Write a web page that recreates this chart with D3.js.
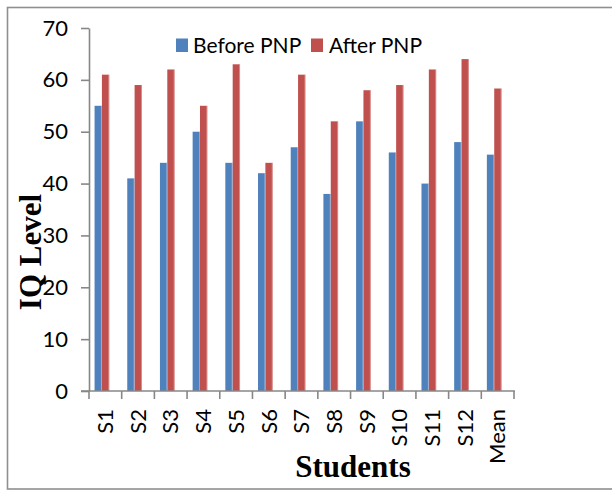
<!DOCTYPE html>
<html>
<head>
<meta charset="utf-8">
<script src="https://cdn.jsdelivr.net/npm/d3@7/dist/d3.min.js"></script>
<style>
  html, body { margin: 0; padding: 0; background: #fff; }
  svg { display: block; }
</style>
</head>
<body>
<svg id="chart" width="612" height="491"></svg>
<script>
// IQ level of each student before and after the PNP programme
const students = ["S1", "S2", "S3", "S4", "S5", "S6", "S7", "S8", "S9", "S10", "S11", "S12", "Mean"];
const beforePNP = [55, 41, 44, 50, 44, 42, 47, 38, 52, 46, 40, 48, 45.58];
const afterPNP  = [61, 59, 62, 55, 63, 44, 61, 52, 58, 59, 62, 64, 58.33];
const yTicks = [0, 10, 20, 30, 40, 50, 60, 70];
const seriesNames = ["Before PNP", "After PNP"];
const seriesColors = ["#4F81BD", "#C0504D"];

const W = 612, H = 491;
const plot = { left: 89, right: 514, top: 28, bottom: 391 };
const axisColor = "#878787";
const tickFont = "Lato, 'Noto Sans', sans-serif";

const svg = d3.select("#chart");

// outer frame
svg.append("rect")
  .attr("x", 7.5).attr("y", 7.5)
  .attr("width", W + 20).attr("height", 481.5)
  .attr("fill", "#fff")
  .attr("stroke", "#8f8f8f").attr("stroke-width", 1.6);

const x = d3.scaleBand().domain(students).range([plot.left, plot.right]);
const y = d3.scaleLinear().domain([0, 70]).range([plot.bottom, plot.top]);

const bw = x.bandwidth() * 0.225;
const offset = x.bandwidth() * 0.17;

// bars
const rows = students.map((s, i) => ({ s, vals: [beforePNP[i], afterPNP[i]] }));
const groups = svg.append("g").selectAll("g").data(rows).join("g");
groups.selectAll("rect")
  .data(d => d.vals.map((v, k) => ({ s: d.s, v, k })))
  .join("rect")
  .attr("x", d => x(d.s) + offset + d.k * bw)
  .attr("y", d => y(d.v))
  .attr("width", bw)
  .attr("height", d => y(0) - y(d.v))
  .attr("fill", d => seriesColors[d.k]);

// light edge on the right side of the bars
groups.selectAll("line.edge")
  .data(d => d.vals.map((v, k) => ({ s: d.s, v, k })))
  .join("line")
  .attr("class", "edge")
  .attr("x1", d => x(d.s) + offset + (d.k + 1) * bw - 0.5)
  .attr("x2", d => x(d.s) + offset + (d.k + 1) * bw - 0.5)
  .attr("y1", d => y(d.v))
  .attr("y2", y(0))
  .attr("stroke", "#fff").attr("stroke-opacity", 0.35).attr("stroke-width", 1);

// y axis
const yAxis = svg.append("g")
  .attr("transform", `translate(${plot.left},0)`)
  .call(d3.axisLeft(y).tickValues(yTicks).tickSize(8).tickPadding(13).tickSizeOuter(0));
yAxis.select(".domain").attr("stroke", axisColor).attr("stroke-width", 1.6);
yAxis.selectAll(".tick line").attr("stroke", axisColor).attr("stroke-width", 1.6);
yAxis.selectAll(".tick text")
  .attr("fill", "#000")
  .style("font-family", tickFont)
  .style("font-size", "22px");

// x axis line with ticks on the category boundaries
const xAxis = svg.append("g");
xAxis.append("line")
  .attr("x1", plot.left - 8).attr("x2", plot.right + 1)
  .attr("y1", plot.bottom).attr("y2", plot.bottom)
  .attr("stroke", axisColor).attr("stroke-width", 1.6);
const bounds = students.map(s => x(s)).concat([x(students[students.length - 1]) + x.step()]);
xAxis.selectAll("line.tk").data(bounds).join("line")
  .attr("class", "tk")
  .attr("x1", d => d).attr("x2", d => d)
  .attr("y1", plot.bottom).attr("y2", plot.bottom + 8)
  .attr("stroke", axisColor).attr("stroke-width", 1.6);
xAxis.selectAll("text").data(students).join("text")
  .attr("transform", d => `translate(${x(d) + x.bandwidth() / 2},409) rotate(-90)`)
  .attr("text-anchor", "end")
  .attr("dy", "0.35em")
  .style("font-family", tickFont)
  .style("font-size", "22px")
  .attr("fill", "#000")
  .text(d => d);

// legend
const legend = svg.append("g");
const legendItems = [
  { name: seriesNames[0], color: seriesColors[0], sx: 176, tx: 193 },
  { name: seriesNames[1], color: seriesColors[1], sx: 311, tx: 329 }
];
legend.selectAll("rect").data(legendItems).join("rect")
  .attr("x", d => d.sx).attr("y", 38.5)
  .attr("width", 12).attr("height", 13.5)
  .attr("fill", d => d.color);
legend.selectAll("text").data(legendItems).join("text")
  .attr("x", d => d.tx).attr("y", 52.5)
  .style("font-family", tickFont)
  .style("font-size", "21px")
  .attr("fill", "#000")
  .text(d => d.name);

// axis titles
svg.append("text")
  .attr("transform", "translate(41,252) rotate(-90)")
  .attr("text-anchor", "middle")
  .style("font-family", "'Liberation Serif', 'Times New Roman', serif")
  .style("font-weight", "bold")
  .style("font-size", "31px")
  .text("IQ Level");

svg.append("text")
  .attr("x", 353).attr("y", 477)
  .attr("text-anchor", "middle")
  .style("font-family", "'Liberation Serif', 'Times New Roman', serif")
  .style("font-weight", "bold")
  .style("font-size", "31px")
  .text("Students");
</script>
</body>
</html>
